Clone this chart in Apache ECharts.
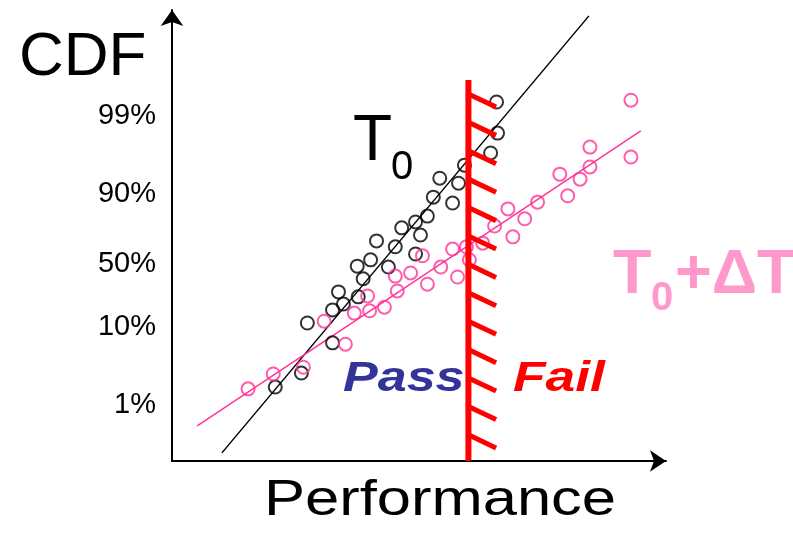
<!DOCTYPE html>
<html><head><meta charset="utf-8">
<script src="https://cdn.jsdelivr.net/npm/echarts@6/dist/echarts.min.js"></script>
<style>html,body{margin:0;padding:0;background:#fff}#c{width:793px;height:535px}</style>
</head><body><div id="c"></div>
<script>
// Tick labels (position on the arbitrary CDF score axis)
const yTickValues = [12.4, 29.7, 43.7, 59.3, 76.6];
const yTickLabels = ['1%', '10%', '50%', '90%', '99%'];

// T0 samples [performance, cdf score]
const t0Points = [
  [65.7,79.6],[65.9,72.7],[64.5,68.3],[59.2,65.6],[54.2,62.7],[58.0,61.6],[52.9,58.5],
  [56.8,57.2],[51.7,54.3],[49.3,53.0],[46.5,51.7],[50.3,50.1],[41.4,48.8],[45.2,47.5],
  [49.3,45.9],[40.2,44.6],[37.5,43.2],[43.8,43.0],[38.7,40.4],[33.7,37.5],[37.7,36.4],
  [34.7,34.8],[32.5,33.5],[27.4,30.6],[32.5,26.2],[26.2,19.5],[20.9,16.4]
];
// T0+dT samples
const t1Points = [
  [92.9,80.0],[92.9,67.4],[84.6,69.6],[84.6,65.2],[82.6,62.5],[78.5,63.6],[80.1,58.8],
  [74.0,57.4],[68.0,55.9],[71.4,53.7],[65.3,52.1],[69.0,49.7],[62.9,48.3],[59.6,47.5],
  [60.2,44.6],[56.8,47.0],[57.8,40.8],[54.4,43.0],[50.7,45.5],[48.3,41.7],[45.2,41.0],
  [51.7,39.2],[45.6,37.7],[39.6,36.6],[43.0,34.1],[40.0,33.3],[36.9,32.8],[30.8,31.0],
  [35.1,25.9],[26.6,20.8],[20.5,19.3],[15.4,16.0]
];
// fitted lines
const t0Fit = [[10.1,1.8],[84.4,98.7]];
const t1Fit = [[5.1,7.8],[94.9,73.2]];
// pass/fail limit
const limitX = 60.0;
const limitTop = 84.5;
const hatchY = [81.4,75.1,68.8,62.5,56.2,49.9,43.6,37.3,31.0,24.7,18.4,12.1,5.8];
const hatchDx = 5.6, hatchDy = 2.9;

const FF = 'Liberation Sans, Arial, sans-serif';
const chart = echarts.init(document.getElementById('c'));
chart.setOption({
  animation: false,
  backgroundColor: '#fff',
  grid: {left: 172, top: 10, right: 127, bottom: 74, containLabel: false},
  xAxis: {
    type: 'value', min: 0, max: 100,
    axisLine: {show: true, onZero: false, symbol: ['none','arrow'], symbolSize: [16,16], symbolOffset: [0,0],
      lineStyle: {color: '#000', width: 2}},
    axisTick: {show: false}, axisLabel: {show: false}, splitLine: {show: false}
  },
  yAxis: {
    type: 'value', min: 0, max: 100,
    axisLine: {show: true, onZero: false, symbol: ['none','arrow'], symbolSize: [17,16],
      lineStyle: {color: '#000', width: 2}},
    axisTick: {show: false},
    splitLine: {show: false},
    axisLabel: {
      show: true, customValues: yTickValues, margin: 16,
      fontSize: 29, fontFamily: FF, color: '#000',
      formatter: function (v) { const i = yTickValues.indexOf(v); return i >= 0 ? yTickLabels[i] : ''; }
    }
  },
  series: [
    {type: 'line', data: t0Fit, symbol: 'none', lineStyle: {color: '#000', width: 1.5}, z: 2},
    {type: 'line', data: t1Fit, symbol: 'none', lineStyle: {color: '#ff3399', width: 1.5}, z: 2},
    {type: 'scatter', data: t0Points, symbol: 'circle', symbolSize: 13,
      itemStyle: {color: 'rgba(0,0,0,0)', borderColor: '#000', borderWidth: 2}, z: 3},
    {type: 'scatter', data: t1Points, symbol: 'circle', symbolSize: 13,
      itemStyle: {color: 'rgba(0,0,0,0)', borderColor: '#ff3399', borderWidth: 2}, z: 3},
    {type: 'line', data: [[limitX,0],[limitX,limitTop]], symbol: 'none', lineStyle: {color: '#ff0000', width: 6}, z: 5},
    {type: 'custom', data: hatchY, z: 5,
      renderItem: function (params, api) {
        const y = api.value(0);
        const p1 = api.coord([limitX, y]);
        const p2 = api.coord([limitX + hatchDx, y - hatchDy]);
        return {type: 'line', shape: {x1: p1[0], y1: p1[1], x2: p2[0], y2: p2[1]},
          style: {stroke: '#ff0000', lineWidth: 5}};
      }}
  ],
  graphic: [
    {type: 'text', x: 19, y: 58, style: {text: 'CDF', font: '62px ' + FF, fill: '#000', verticalAlign: 'middle'}},
    {type: 'text', x: 353, y: 142, style: {text: 'T', font: '64px ' + FF, fill: '#000', verticalAlign: 'middle'}},
    {type: 'text', x: 391, y: 167.5, style: {text: '0', font: '40px ' + FF, fill: '#000', verticalAlign: 'middle'}},
    {type: 'text', x: 613, y: 275.5, style: {text: 'T', font: 'bold 63px ' + FF, fill: '#ff99cc', verticalAlign: 'middle'}},
    {type: 'text', x: 651, y: 299, style: {text: '0', font: 'bold 40px ' + FF, fill: '#ff99cc', verticalAlign: 'middle'}},
    {type: 'text', x: 675, y: 275.5, style: {text: '+ΔT', font: 'bold 63px ' + FF, fill: '#ff99cc', verticalAlign: 'middle'}},
    {type: 'text', x: 343, y: 379.5, scaleX: 1.21, z: 1, style: {text: 'Pass', font: 'italic bold 43px ' + FF, fill: '#333399', verticalAlign: 'middle'}},
    {type: 'text', x: 513, y: 379.5, scaleX: 1.24, style: {text: 'Fail', font: 'italic bold 43px ' + FF, fill: '#ff0000', verticalAlign: 'middle'}},
    {type: 'text', x: 264, y: 501, scaleX: 1.23, style: {text: 'Performance', font: '50px ' + FF, fill: '#000', verticalAlign: 'middle'}}
  ]
});
</script></body></html>
